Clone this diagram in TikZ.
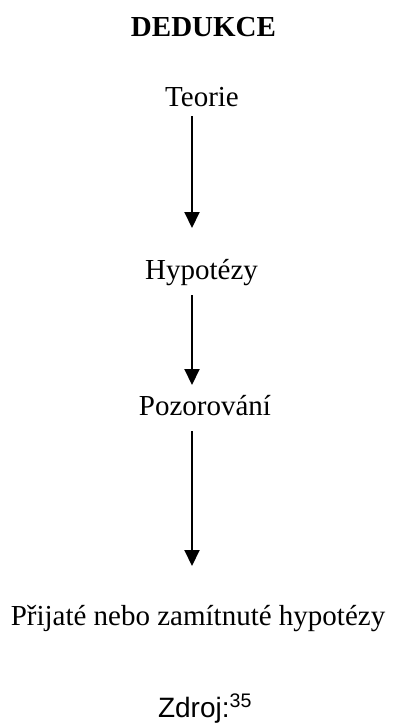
\documentclass[tikz,border=0pt]{standalone}
\usepackage{fontspec}
\setmainfont{Liberation Serif}
\newfontfamily\zdrojfont{Liberation Sans}
\usetikzlibrary{arrows.meta}

\begin{document}
\begin{tikzpicture}[x=1pt,y=-1pt,-{Triangle[width=15pt,length=16pt]},line width=2pt]
  \tikzstyle{word}=[inner sep=0pt,anchor=base,text height=20pt,text depth=7pt,font=\fontsize{29}{34}\selectfont]

  \useasboundingbox (0,0) rectangle (396,724);
  \coordinate (axis) at (192,0);

  \node[word,font=\fontsize{29}{34}\selectfont\bfseries] (title) at (203.5,36) {DEDUKCE};

  \foreach \name/\x/\y/\text in {teorie/202/106/Teorie, hypotezy/201.5/279/Hypotézy, pozorovani/205/415/Pozorování, prijate/198/625/Přijaté nebo zamítnuté hypotézy}
    \node[word] (\name) at (\x,\y) {\text};

  \node[word,font=\fontsize{28}{34}\zdrojfont] (zdroj) at (205,717) {Zdroj:\textsuperscript{35}};

  \foreach \from/\to/\a/\b in {teorie/hypotezy/2pt/30pt, hypotezy/pozorovani/8pt/9pt, pozorovani/prijate/8pt/38pt}
    { \draw[shorten <=\a,shorten >=\b] (\from.south -| axis) -- (\to.north -| axis); }
\end{tikzpicture}
\end{document}
